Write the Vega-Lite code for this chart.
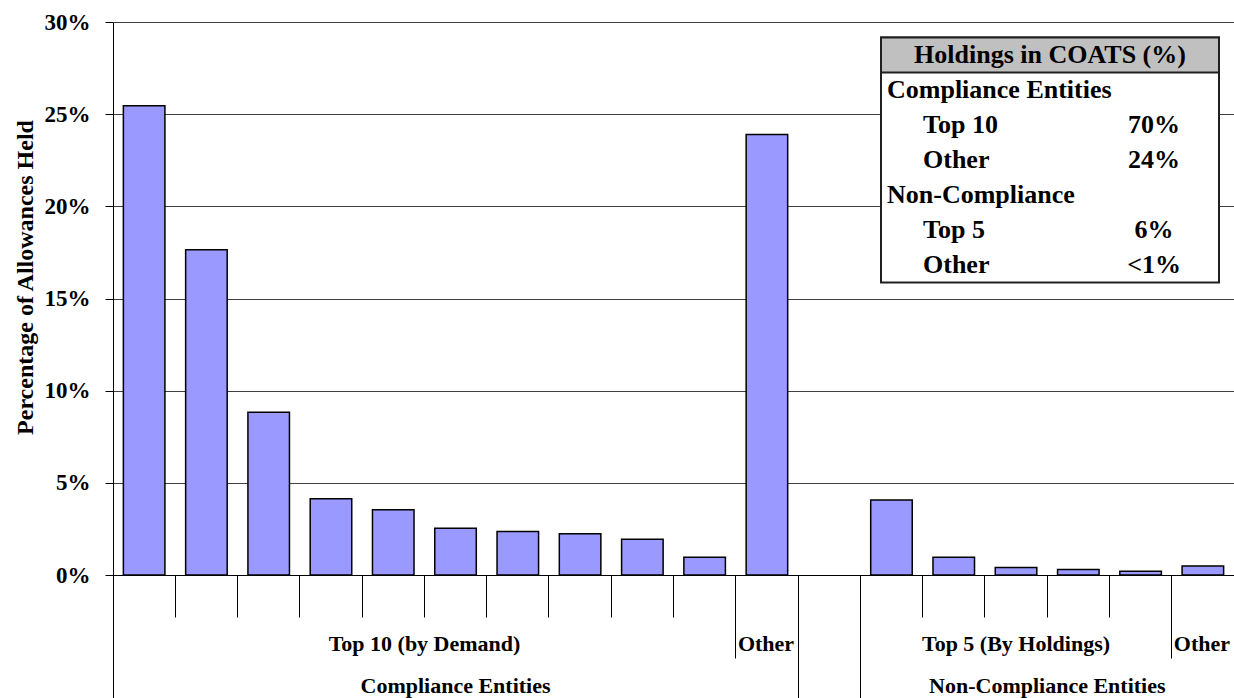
{
  "$schema": "https://vega.github.io/schema/vega-lite/v6.json",
  "width": 1121,
  "height": 553,
  "autosize": {"type": "none"},
  "padding": {"left": 113, "top": 22, "right": 0, "bottom": 123},
  "background": "white",
  "config": {
    "font": "Liberation Serif",
    "view": {"stroke": null},
    "axis": {"labelFont": "Liberation Serif", "titleFont": "Liberation Serif"},
    "text": {"font": "Liberation Serif"}
  },
  "datasets": {
    "holdings": [
      {"entity": "C1", "share": 25.45},
      {"entity": "C2", "share": 17.65},
      {"entity": "C3", "share": 8.83},
      {"entity": "C4", "share": 4.14},
      {"entity": "C5", "share": 3.54},
      {"entity": "C6", "share": 2.54},
      {"entity": "C7", "share": 2.36},
      {"entity": "C8", "share": 2.24},
      {"entity": "C9", "share": 1.94},
      {"entity": "C10", "share": 0.96},
      {"entity": "COther", "share": 23.9},
      {"entity": "N1", "share": 4.07},
      {"entity": "N2", "share": 0.96},
      {"entity": "N3", "share": 0.41},
      {"entity": "N4", "share": 0.3},
      {"entity": "N5", "share": 0.2},
      {"entity": "NOther", "share": 0.49}
    ],
    "coats": [
      {"line": 0, "label": "Holdings in COATS (%)", "kind": "header"},
      {"line": 1, "label": "Compliance Entities", "kind": "group"},
      {"line": 2, "label": "Top 10", "value": "70%", "kind": "item"},
      {"line": 3, "label": "Other", "value": "24%", "kind": "item"},
      {"line": 4, "label": "Non-Compliance", "kind": "group"},
      {"line": 5, "label": "Top 5", "value": "6%", "kind": "item"},
      {"line": 6, "label": "Other", "value": "<1%", "kind": "item"}
    ]
  },
  "layer": [
    {
      "data": {"name": "holdings"},
      "resolve": {"axis": {"x": "independent"}},
      "layer": [
        {
          "mark": {"type": "bar", "width": {"band": 0.667}, "fill": "#9999FF", "stroke": "#000000", "strokeWidth": 1.5},
          "encoding": {
            "x": {
              "field": "entity", "type": "nominal", "sort": null,
              "scale": {"domain": ["C1","C2","C3","C4","C5","C6","C7","C8","C9","C10","COther","Gap","N1","N2","N3","N4","N5","NOther"], "paddingInner": 0, "paddingOuter": 0},
              "axis": {
                "orient": "bottom", "title": null, "labels": false, "grid": false,
                "bandPosition": 0, "domainColor": "#000000", "domainWidth": 1,
                "tickColor": "#000000", "tickWidth": 1,
                "tickSize": {"condition": [
                  {"test": "datum.value == 'C1' || datum.value == 'Gap' || datum.value == 'N1'", "value": 123},
                  {"test": "datum.value == 'COther' || datum.value == 'NOther'", "value": 83}
                ], "value": 42}
              }
            },
            "y": {
              "field": "share", "type": "quantitative",
              "scale": {"domain": [0, 30], "nice": false},
              "axis": {
                "values": [0, 5, 10, 15, 20, 25, 30],
                "labelExpr": "datum.value + '%'",
                "title": "Percentage of Allowances Held",
                "titleFontSize": 24, "titleFontWeight": "bold", "titleColor": "#000000",
                "titlePadding": 7, "titleY": 255,
                "labelFontSize": 23, "labelFontWeight": "bold", "labelColor": "#000000",
                "labelPadding": 15, "tickSize": 8, "tickColor": "#000000",
                "domainColor": "#000000", "domainWidth": 1,
                "grid": true, "gridColor": "#404040", "gridWidth": 1
              }
            }
          }
        },
        {
          "mark": {"type": "text", "text": ""},
          "encoding": {
            "x": {
              "field": "entity", "type": "nominal", "sort": null,
              "scale": {"domain": ["C1","C2","C3","C4","C5","C6","C7","C8","C9","C10","COther","Gap","N1","N2","N3","N4","N5","NOther"], "paddingInner": 0, "paddingOuter": 0},
              "axis": {
                "orient": "bottom", "title": null, "ticks": false, "domain": false, "grid": false,
                "labelAngle": 0,
                "labelExpr": "datum.value == 'C6' ? 'Top 10 (by Demand)' : (datum.value == 'COther' || datum.value == 'NOther') ? 'Other' : datum.value == 'N4' ? 'Non-Compliance Entities' : ''",
                "labelPadding": {"condition": {"test": "datum.value == 'N4'", "value": 100}, "value": 58},
                "labelOffset": {"condition": {"test": "datum.value == 'COther' || datum.value == 'NOther'", "value": -29}, "value": -31},
                "labelAlign": {"condition": {"test": "datum.value == 'C6' || datum.value == 'N4'", "value": "center"}, "value": "left"},
                "labelFontSize": 22, "labelFontWeight": "bold", "labelColor": "#000000",
                "labelBaseline": "top", "labelOverlap": false, "labelBound": false, "labelFlush": false, "labelLimit": 0
              }
            }
          }
        },
        {
          "mark": {"type": "text", "text": ""},
          "encoding": {
            "x": {
              "field": "entity", "type": "nominal", "sort": null,
              "scale": {"domain": ["C1","C2","C3","C4","C5","C6","C7","C8","C9","C10","COther","Gap","N1","N2","N3","N4","N5","NOther"], "paddingInner": 0, "paddingOuter": 0},
              "axis": {
                "orient": "bottom", "title": null, "ticks": false, "domain": false, "grid": false,
                "labelAngle": 0,
                "labelExpr": "datum.value == 'N3' ? 'Top 5 (By Holdings)' : datum.value == 'C6' ? 'Compliance Entities' : ''",
                "labelPadding": {"condition": {"test": "datum.value == 'C6'", "value": 100}, "value": 58},
                "labelAlign": "center",
                "labelFontSize": 22, "labelFontWeight": "bold", "labelColor": "#000000",
                "labelBaseline": "top", "labelOverlap": false, "labelBound": false, "labelFlush": false, "labelLimit": 0
              }
            }
          }
        }
      ]
    },
    {
      "data": {"name": "coats"},
      "layer": [
        {
          "transform": [{"filter": "datum.kind == 'header'"}],
          "mark": {"type": "rect", "fill": "#FFFFFF", "stroke": "#202020", "strokeWidth": 2},
          "encoding": {
            "x": {"datum": 0, "type": "quantitative", "scale": {"domain": [0, 1], "range": [768, 1106]}, "axis": null},
            "x2": {"datum": 1},
            "y": {"datum": -0.5, "type": "quantitative", "scale": {"domain": [-0.5, 6.5], "range": [15.5, 260.5]}, "axis": null},
            "y2": {"datum": 6.5}
          }
        },
        {
          "transform": [{"filter": "datum.kind == 'header'"}],
          "mark": {"type": "rect", "fill": "#C0C0C0", "stroke": "#202020", "strokeWidth": 2},
          "encoding": {
            "x": {"datum": 0, "type": "quantitative", "scale": {"domain": [0, 1], "range": [768, 1106]}, "axis": null},
            "x2": {"datum": 1},
            "y": {"datum": -0.5, "type": "quantitative", "scale": {"domain": [-0.5, 6.5], "range": [15.5, 260.5]}, "axis": null},
            "y2": {"datum": 0.5}
          }
        },
        {
          "transform": [{"filter": "datum.kind == 'header'"}],
          "mark": {"type": "text", "align": "center", "baseline": "middle", "fontSize": 26, "fontWeight": "bold", "color": "#000000"},
          "encoding": {
            "x": {"datum": 0.5, "type": "quantitative", "scale": {"domain": [0, 1], "range": [768, 1106]}, "axis": null},
            "y": {"field": "line", "type": "quantitative", "scale": {"domain": [-0.5, 6.5], "range": [15.5, 260.5]}, "axis": null},
            "text": {"field": "label"}
          }
        },
        {
          "transform": [{"filter": "datum.kind == 'group'"}],
          "mark": {"type": "text", "align": "left", "baseline": "middle", "dx": 6, "fontSize": 26, "fontWeight": "bold", "color": "#000000"},
          "encoding": {
            "x": {"datum": 0, "type": "quantitative", "scale": {"domain": [0, 1], "range": [768, 1106]}, "axis": null},
            "y": {"field": "line", "type": "quantitative", "scale": {"domain": [-0.5, 6.5], "range": [15.5, 260.5]}, "axis": null},
            "text": {"field": "label"}
          }
        },
        {
          "transform": [{"filter": "datum.kind == 'item'"}],
          "mark": {"type": "text", "align": "left", "baseline": "middle", "dx": 42, "fontSize": 26, "fontWeight": "bold", "color": "#000000"},
          "encoding": {
            "x": {"datum": 0, "type": "quantitative", "scale": {"domain": [0, 1], "range": [768, 1106]}, "axis": null},
            "y": {"field": "line", "type": "quantitative", "scale": {"domain": [-0.5, 6.5], "range": [15.5, 260.5]}, "axis": null},
            "text": {"field": "label"}
          }
        },
        {
          "transform": [{"filter": "datum.kind == 'item'"}],
          "mark": {"type": "text", "align": "center", "baseline": "middle", "fontSize": 26, "fontWeight": "bold", "color": "#000000"},
          "encoding": {
            "x": {"datum": 0.808, "type": "quantitative", "scale": {"domain": [0, 1], "range": [768, 1106]}, "axis": null},
            "y": {"field": "line", "type": "quantitative", "scale": {"domain": [-0.5, 6.5], "range": [15.5, 260.5]}, "axis": null},
            "text": {"field": "value"}
          }
        }
      ]
    }
  ],
  "resolve": {"scale": {"x": "independent", "y": "independent"}}
}
